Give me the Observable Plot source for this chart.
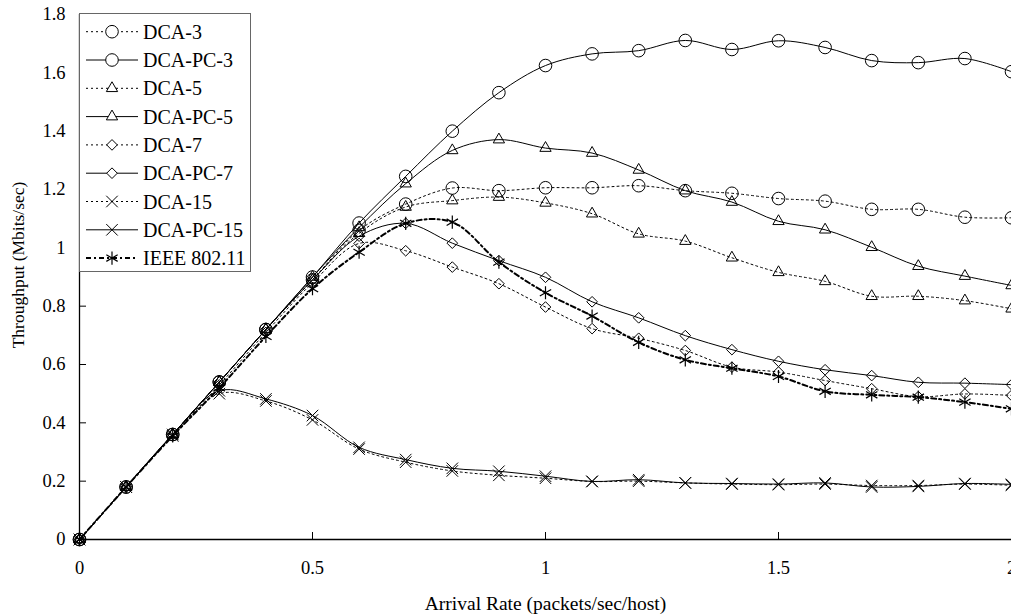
<!DOCTYPE html>
<html>
<head>
<meta charset="utf-8">
<script src="https://cdn.jsdelivr.net/npm/d3@7"></script>
<script src="https://cdn.jsdelivr.net/npm/@observablehq/plot@0.6"></script>
<style>
  html, body { margin: 0; padding: 0; background: white; }
  #wrap { position: relative; width: 1011px; height: 616px; }
  #legend { position: absolute; left: 79px; top: 13px; }
</style>
</head>
<body>
<div id="wrap"></div>
<script>
// ---- data ----
const arrivalRate = [0, 0.1, 0.2, 0.3, 0.4, 0.5, 0.6, 0.7, 0.8, 0.9, 1.0, 1.1, 1.2, 1.3, 1.4, 1.5, 1.6, 1.7, 1.8, 1.9, 2.0];
const dca3     = [0, 0.18, 0.36, 0.54, 0.72, 0.89, 1.06, 1.15, 1.205, 1.196, 1.206, 1.206, 1.213, 1.196, 1.187, 1.169, 1.16, 1.132, 1.132, 1.105, 1.103];
const dcaPc3   = [0, 0.18, 0.36, 0.54, 0.72, 0.90, 1.085, 1.245, 1.40, 1.532, 1.625, 1.665, 1.676, 1.711, 1.68, 1.71, 1.687, 1.642, 1.635, 1.649, 1.604];
const dca5     = [0, 0.18, 0.36, 0.54, 0.72, 0.89, 1.05, 1.14, 1.162, 1.174, 1.154, 1.117, 1.048, 1.023, 0.966, 0.916, 0.885, 0.834, 0.834, 0.819, 0.791];
const dcaPc5   = [0, 0.18, 0.36, 0.54, 0.72, 0.90, 1.07, 1.22, 1.334, 1.371, 1.342, 1.325, 1.267, 1.196, 1.157, 1.091, 1.062, 1.002, 0.937, 0.903, 0.871];
const dca7     = [0, 0.18, 0.36, 0.53, 0.71, 0.88, 1.015, 0.99, 0.934, 0.877, 0.797, 0.723, 0.69, 0.648, 0.591, 0.574, 0.545, 0.517, 0.49, 0.499, 0.494];
const dcaPc7   = [0, 0.18, 0.36, 0.54, 0.72, 0.89, 1.04, 1.084, 1.016, 0.956, 0.899, 0.815, 0.76, 0.699, 0.651, 0.611, 0.582, 0.562, 0.539, 0.536, 0.531];
const dca15    = [0, 0.18, 0.355, 0.50, 0.475, 0.41, 0.31, 0.265, 0.235, 0.22, 0.21, 0.199, 0.2, 0.194, 0.19, 0.188, 0.19, 0.185, 0.185, 0.19, 0.186];
const dcaPc15  = [0, 0.18, 0.36, 0.51, 0.482, 0.425, 0.316, 0.274, 0.244, 0.234, 0.217, 0.199, 0.205, 0.194, 0.192, 0.19, 0.194, 0.18, 0.182, 0.192, 0.189];
const ieee     = [0, 0.18, 0.355, 0.52, 0.696, 0.86, 0.985, 1.084, 1.088, 0.951, 0.846, 0.766, 0.676, 0.616, 0.587, 0.559, 0.508, 0.496, 0.488, 0.471, 0.448];

const seriesNames = ["DCA-3", "DCA-PC-3", "DCA-5", "DCA-PC-5", "DCA-7", "DCA-PC-7", "DCA-15", "DCA-PC-15", "IEEE 802.11"];
const seriesValues = [dca3, dcaPc3, dca5, dcaPc5, dca7, dcaPc7, dca15, dcaPc15, ieee];
const xTicks = [0, 0.5, 1, 1.5, 2];
const yTicks = [0, 0.2, 0.4, 0.6, 0.8, 1.0, 1.2, 1.4, 1.6, 1.8];
const xLabel = "Arrival Rate (packets/sec/host)";
const yLabel = "Throughput (Mbits/sec)";

// ---- styles ----
const DOT = "2,3";
const styles = [
  {symbol: "circle", r: 6.3, dash: DOT, sw: 1},
  {symbol: "circle", r: 6.3, dash: null, sw: 1},
  {symbol: "triangle", r: 4.2, dash: DOT, sw: 1},
  {symbol: "triangle", r: 4.2, dash: null, sw: 1},
  {symbol: "diamond2", r: 4.8, dash: DOT, sw: 1},
  {symbol: "diamond2", r: 4.8, dash: null, sw: 1},
  {symbol: "times", r: 5.3, dash: DOT, sw: 1},
  {symbol: "times", r: 5.3, dash: null, sw: 1},
  {symbol: "asterisk", r: 6.2, dash: "5,3,2,3", sw: 2}
];

const series = seriesNames.map((name, k) => ({
  name,
  style: styles[k],
  rows: seriesValues[k].map((v, i) => ({x: arrivalRate[i], y: v}))
}));

const fmt = d => String(+d.toFixed(1));
const font = "Liberation Serif, Times New Roman, serif";

const marks = [
  Plot.axisX(xTicks, {tickSize: -7, tickPadding: 28, tickFormat: fmt, label: null, fontSize: 18.5}),
  Plot.axisY(yTicks, {tickSize: -7, tickPadding: 21, tickFormat: fmt, label: null, fontSize: 18.5}),
  Plot.ruleX([0], {stroke: "black", strokeWidth: 1.3}),
  Plot.ruleY([0], {stroke: "black", strokeWidth: 1.3}),
  Plot.text([yLabel], {frameAnchor: "left", dx: -61, dy: -12, rotate: -90, fontSize: 17.5, textAnchor: "middle"}),
  Plot.text([xLabel], {frameAnchor: "bottom", dy: 70, fontSize: 19.5, textAnchor: "middle"})
];
for (const s of series) {
  marks.push(Plot.line(s.rows, {x: "x", y: "y", curve: "catmull-rom", stroke: "black",
    strokeWidth: s.style.sw, strokeDasharray: s.style.dash}));
}
for (const s of series) {
  marks.push(Plot.dot(s.rows, {x: "x", y: "y", symbol: () => s.style.symbol, r: s.style.r,
    stroke: "black", fill: "none", strokeWidth: s.style.symbol === "asterisk" ? 1.2 : 1}));
}

const chart = Plot.plot({
  width: 1011, height: 616,
  marginLeft: 79, marginRight: 0, marginTop: 14, marginBottom: 77,
  x: {domain: [0, 2]},
  y: {domain: [0, 1.8]},
  style: {fontFamily: font, fontSize: "18px", color: "black", background: "white"},
  marks
});
const wrap = document.getElementById("wrap");
wrap.appendChild(chart);

// ---- legend ----
const lw = 172, lh = 259;
const leg = d3.create("svg").attr("id", "legend").attr("width", lw).attr("height", lh)
  .attr("font-family", font);
leg.append("rect").attr("x", 0.5).attr("y", 0.5).attr("width", lw - 1).attr("height", lh - 1)
  .attr("fill", "white").attr("stroke", "#666").attr("stroke-width", 1);
const symMap = {circle: d3.symbolCircle, triangle: d3.symbolTriangle, diamond2: d3.symbolDiamond2,
  times: d3.symbolTimes, asterisk: d3.symbolAsterisk};
series.forEach((s, i) => {
  const y = 18.7 + i * 28.3;
  const g = leg.append("g");
  g.append("line").attr("x1", 7).attr("x2", 59).attr("y1", y).attr("y2", y)
    .attr("stroke", "black").attr("stroke-width", s.style.sw)
    .attr("stroke-dasharray", s.style.dash);
  g.append("path").attr("transform", `translate(33,${y})`)
    .attr("d", d3.symbol(symMap[s.style.symbol], Math.PI * s.style.r * s.style.r)())
    .attr("fill", s.style.symbol === "asterisk" ? "none" : "white").attr("stroke", "black")
    .attr("stroke-width", s.style.symbol === "asterisk" ? 1.2 : 1);
  g.append("text").attr("x", 64).attr("y", y).attr("dy", "0.35em")
    .attr("font-family", font).attr("font-size", 20).text(s.name);
});
wrap.appendChild(leg.node());
</script>
</body>
</html>
